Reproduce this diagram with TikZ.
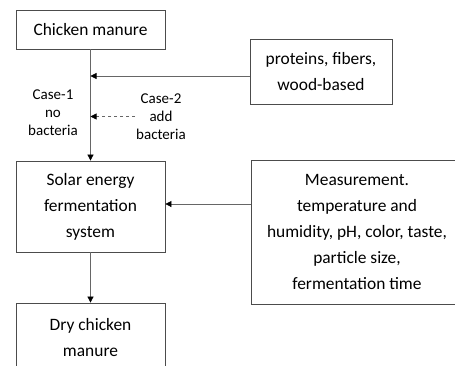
\documentclass[tikz,border=0pt]{standalone}
\usepackage{fontspec}
\setmainfont{Carlito}
\usetikzlibrary{arrows.meta}
\begin{document}
\begin{tikzpicture}[x=1pt,y=-1pt,
  box/.style={draw=black!70, line width=0.8pt, align=center, inner sep=0pt,
    font=\fontsize{17.4}{26}\selectfont},
  lbl/.style={align=center, inner sep=1pt, font=\fontsize{15}{18}\selectfont},
  arr/.style={draw=black!60, line width=0.7pt, -{Triangle[length=6pt,width=6pt,color=black]}}]
\fill[white] (0,0) rectangle (455,365);
\begin{scope}[overlay]
\clip (0,0) rectangle (455,365);
\node [box, minimum width=149, minimum height=39] (chicken) at (90.5,29.5) {Chicken manure};
\node [box, minimum width=142, minimum height=65] (proteins) at (321,71.5) {proteins, fibers,\\wood-based};
\node [box, minimum width=149, minimum height=91] (solar) at (90.5,206.5) {Solar energy\\fermentation\\system};
\node [box, minimum width=212, minimum height=144] (measure) at (357,232) {Measurement.\\temperature and\\humidity, pH, color, taste,\\particle size,\\fermentation time};
\node [box, minimum width=149, minimum height=70] (dry) at (90.5,338) {Dry chicken\\manure};
\node [lbl] (casea) at (53,112.5) {Case-1\\no\\bacteria};
\node [lbl] (caseb) at (161,116.5) {Case-2\\add\\bacteria};
\coordinate (pIn) at (250,76);
\coordinate (mIn) at (251,204);
\draw [arr] (chicken.south) -- (solar.north);
\draw [arr] (pIn) -- (pIn -| chicken.south);
\draw [arr, dashed] (caseb.west) -- (caseb.west -| chicken.south);
\draw [arr] (mIn) -- (mIn -| solar.east);
\draw [arr] (solar.south) -- (dry.north);
\end{scope}
\end{tikzpicture}
\end{document}
